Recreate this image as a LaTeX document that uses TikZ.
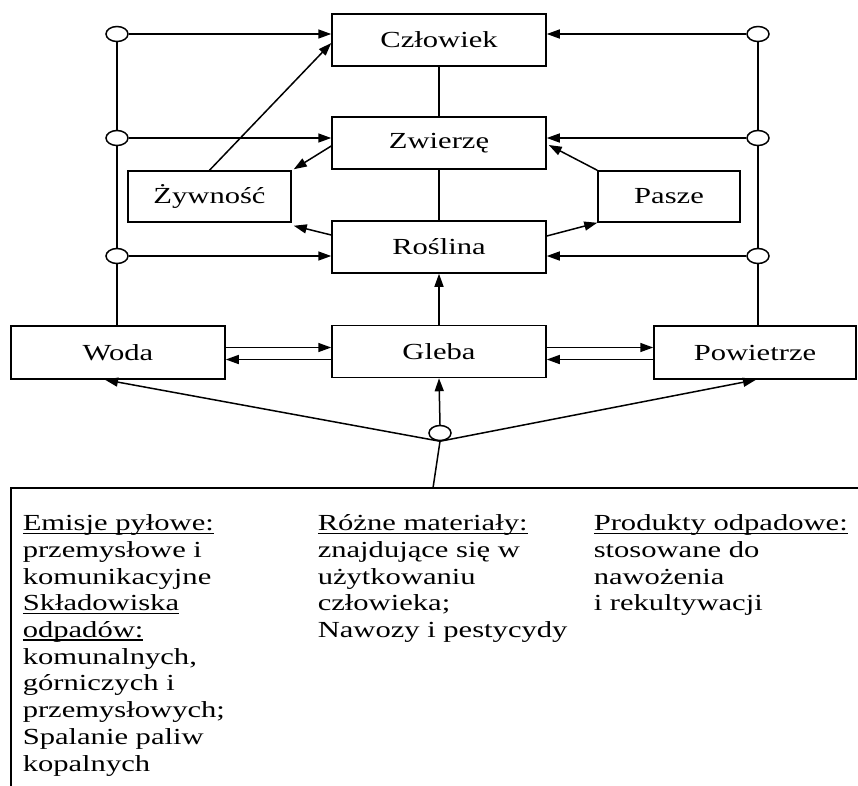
\documentclass[tikz,border=0pt]{standalone}
\usepackage{fontspec}
\setmainfont{Liberation Serif}[FakeStretch=1.33]
\usetikzlibrary{arrows.meta,shapes.geometric,calc}
\newcommand\ulx[1]{\setbox0\hbox{#1}\rlap{\rule[-3pt]{\wd0}{1.1pt}}\box0}
\begin{document}
\begin{tikzpicture}[x=1pt,y=-1pt, line width=1.5pt,
  lbl/.style={draw, rectangle, inner sep=0pt, font=\fontsize{23}{27}\selectfont},
  mid/.style={lbl, minimum width=214pt, minimum height=52pt},
  hub/.style={draw, ellipse, minimum width=22pt, minimum height=15pt, inner sep=0pt, fill=white},
  arr/.style={-{Triangle[length=13pt,width=9pt]}},
  txt/.style={anchor=north west, inner sep=0pt, align=left, font=\fontsize{23}{26.7}\selectfont}
  ]
\useasboundingbox (0,0) rectangle (858,785);
% boxes
\node[mid] (czl) at (439,40) {Człowiek};
\node[mid] (zw) at (439,143) {Zwierzę};
\node[mid] (ros) at (439,247) {Roślina};
\node[mid] (gl) at (439,351.5) {Gleba};
\node[lbl, minimum width=214pt, minimum height=53pt] (woda) at (118,352.5) {Woda};
\node[lbl, minimum width=202pt, minimum height=53pt] (pow) at (755,352.5) {Powietrze};
\node[lbl, minimum width=163pt, minimum height=51pt] (zyw) at (209.5,196.5) {Żywność};
\node[lbl, minimum width=142pt, minimum height=51pt] (pas) at (669,196.5) {Pasze};
% hubs
\node[hub] (hL1) at (117,34) {};
\node[hub] (hL2) at (117,138) {};
\node[hub] (hL3) at (117,256) {};
\node[hub] (hR1) at (758,34) {};
\node[hub] (hR2) at (758,138) {};
\node[hub] (hR3) at (758,256) {};
\node[hub] (hB) at (440,433) {};
% source box
\node[inner sep=0pt, minimum width=847pt, minimum height=297pt, anchor=north west] (src) at (11,488) {};
\draw (src.south west) -- (src.north west) -- (src.north east);
\coordinate (srcTop) at (433,488);
\node[txt] (c1) at (22,514) {\ulx{Emisje pyłowe:}\\przemysłowe i\\komunikacyjne\\\ulx{Składowiska}\\\ulx{odpadów:}\\komunalnych,\\górniczych i\\przemysłowych;\\Spalanie paliw\\kopalnych};
\node[txt] (c2) at (317,514) {\ulx{Różne materiały:}\\znajdujące się w\\użytkowaniu\\człowieka;\\Nawozy i pestycydy};
\node[txt] (c3) at (593,514) {\ulx{Produkty odpadowe:}\\stosowane do\\nawożenia\\i rekultywacji};
% vertical lines with hubs
\draw (hL1.south) -- (hL2.north) (hL2.south) -- (hL3.north) (hL3.south) -- (hL3.south |- woda.north);
\draw (hR1.south) -- (hR2.north) (hR2.south) -- (hR3.north) (hR3.south) -- (hR3.south |- pow.north);
% hub arrows
\draw[arr] (hL1.east) -- (hL1 -| czl.west);
\draw[arr] (hL2.east) -- (hL2 -| zw.west);
\draw[arr] (hL3.east) -- (hL3 -| ros.west);
\draw[arr] (hR1.west) -- (hR1 -| czl.east);
\draw[arr] (hR2.west) -- (hR2 -| zw.east);
\draw[arr] (hR3.west) -- (hR3 -| ros.east);
% central chain
\draw (czl.south) -- (zw.north);
\draw (zw.south) -- (ros.north);
\draw[arr] (gl.north) -- (ros.south);
% food & fodder
\draw[arr] (zyw.north) -- ($(czl.west)+(0,3)$);
\draw[arr] ($(zw.west)+(0,3)$) -- ($(zyw.north east)+(2,-1)$);
\draw[arr] ($(ros.west)+(0,-12)$) -- ($(zyw.south east)+(2,3)$);
\draw[arr] (pas.north west) -- ($(zw.east)+(2,2)$);
\draw[arr] ($(ros.east)+(0,-11)$) -- (pas.south west);
% soil exchanges
\draw[arr] ([yshift=5pt]woda.east) -- ([yshift=4pt]gl.west);
\draw[arr] ([yshift=-8pt]gl.west) -- ([yshift=-7pt]woda.east);
\draw[arr] ([yshift=4pt]gl.east) -- ([yshift=5pt]pow.west);
\draw[arr] ([yshift=-7pt]pow.west) -- ([yshift=-8pt]gl.east);
% bottom hub
\draw[arr] (hB.north) -- (gl.south);
\draw[arr] (hB.south) -- ($(woda.south)+(-13,0)$);
\draw[arr] (hB.south) -- ($(pow.south)+(1,0)$);
\draw (hB.south) -- (srcTop);
\end{tikzpicture}
\end{document}
